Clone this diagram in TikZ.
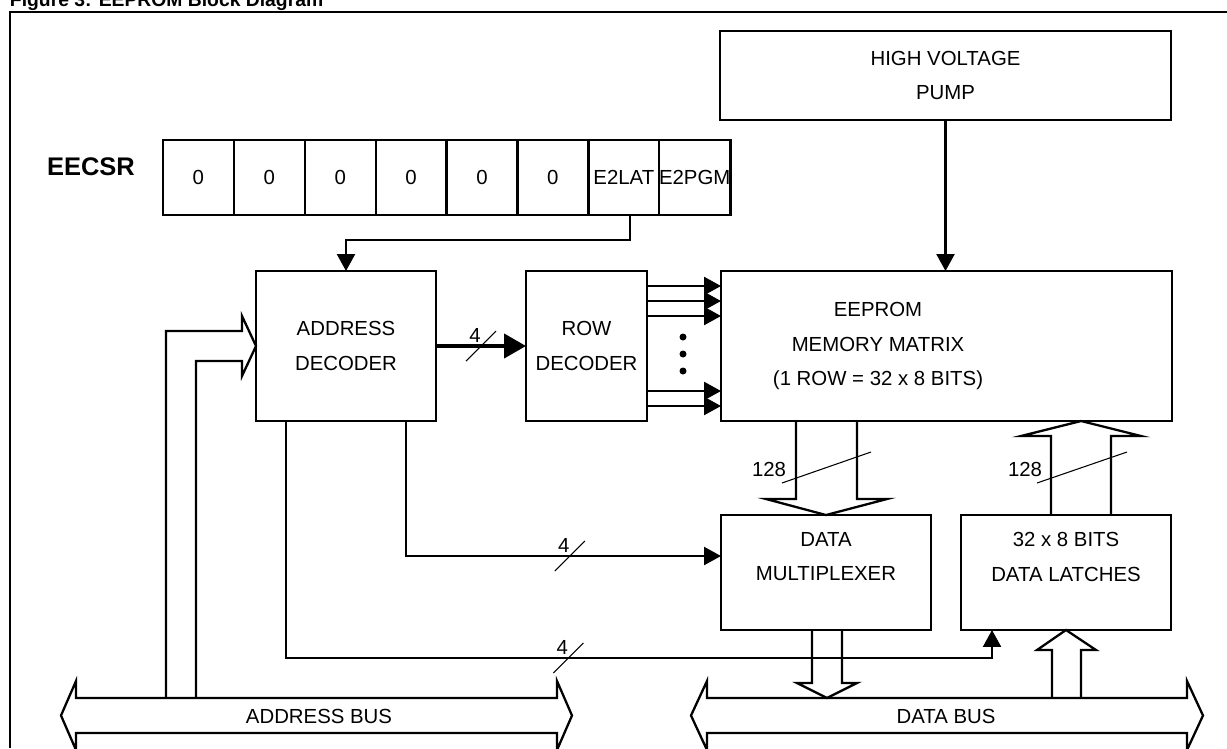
\documentclass[tikz,border=0pt]{standalone}
\usepackage{fontspec}
\setmainfont{Liberation Sans}
\usetikzlibrary{arrows.meta}

\begin{document}
\begin{tikzpicture}[x=0.02cm,y=-0.02cm,inner sep=0pt,outer sep=0pt,line width=1.3pt,
font=\fontsize{11.6pt}{19.4pt}\selectfont,
>={Triangle[length=0.34cm,width=0.36cm]},
blk/.style={draw,rectangle,align=center},
cell/.style={draw,rectangle,minimum width=1.418cm,minimum height=1.5cm},
slash/.style={line width=0.6pt}]
\useasboundingbox (0,0) rectangle (1227,748);
\draw (10,6) node[anchor=base west,font=\bfseries\fontsize{11pt}{13pt}\selectfont] (title) {Figure 3: EEPROM Block Diagram};
\draw (10,748) -- (10,12) -- (1227,12);

\draw (945.5,75.5) node[blk,minimum width=9.02cm,minimum height=1.78cm] (pump) {HIGH VOLTAGE\\PUMP};
\draw (91,167) node[font=\bfseries\fontsize{14.5pt}{17pt}\selectfont] (eecsr) {EECSR};
\draw (198.4,177.5) node[cell] (c1) {0};
\draw (269.3,177.5) node[cell] (c2) {0};
\draw (340.2,177.5) node[cell] (c3) {0};
\draw (411.1,177.5) node[cell] (c4) {0};
\draw (482.0,177.5) node[cell] (c5) {0};
\draw (552.9,177.5) node[cell] (c6) {0};
\draw (623.8,177.5) node[cell] (c7) {E2LAT};
\draw (694.7,177.5) node[cell] (c8) {E2PGM};

\draw (346,346) node[blk,minimum width=3.6cm,minimum height=3cm] (addr) {ADDRESS\\DECODER};
\draw (586.5,346) node[blk,minimum width=2.42cm,minimum height=3cm] (row) {ROW\\DECODER};
\draw (946.5,346) node[blk,minimum width=9.02cm,minimum height=3cm] (matrix) {};
\draw (878,346) node[align=center] (mtxt) {EEPROM\\MEMORY MATRIX\\(1 ROW = 32 x 8 BITS)};
\draw (826,572.5) node[blk,minimum width=4.2cm,minimum height=2.3cm] (mux) {};
\draw (826,557) node[align=center] (muxtxt) {DATA\\MULTIPLEXER};
\draw (1066,572.5) node[blk,minimum width=4.2cm,minimum height=2.3cm] (latch) {};
\draw (1066,557) node[align=center] (lattxt) {32 x 8 BITS\\DATA LATCHES};

\draw[->] (pump.south) -- (pump.south |- matrix.north);
\draw[->] ([xshift=0.12cm]c7.south) -- ++(0,25) -| (addr.north);
\draw[-{Triangle[length=0.44cm,width=0.48cm]},line width=2.4pt] (addr) -- coordinate (s1) (row);
\foreach \yy in {286,301,316,391,406}
  \draw[->] (row.east |- 0,\yy) -- (matrix.west |- 0,\yy);
\foreach \yy in {337,354,371}
  \fill (683,\yy) circle (0.07cm);
\draw[->] ([xshift=-0.6cm]addr.south east) |- coordinate[pos=0.76] (s2) ([yshift=0.33cm]mux.west);
\draw[->] ([xshift=0.6cm]addr.south west) -- ++(0,237) -| coordinate[pos=0.2] (s3) ([xshift=0.62cm]latch.south west);
\foreach \s/\n in {s1/n1,s2/n2,s3/n3} {
  \draw[slash] (\s) ++(-15,15) -- ++(30,-30);
  \draw ([shift={(-6,-11)}]\s) node (\n) {4};
}

% wide bus arrows
\draw (796,421) -- (796,499) -- (766,499) -- (mux.north) -- (887,499) -- (857,499) -- (857,421);
\draw (1051,515) -- (1051,436) -- (1021,436) -- (1081,421) -- (1141,436) -- (1111,436) -- (1111,515);
\draw[slash] (782,483) -- (871,452);
\draw (769,469) node (w1) {128};
\draw[slash] (1037,483) -- (1127,452);
\draw (1025,469) node (w2) {128};
\draw (812,630) -- (812,683) -- (797,683) -- (827,698) -- (857,683) -- (842,683) -- (842,630);
\draw (1052,698) -- (1052,650) -- (1037,650) -- (latch.south) -- (1096,650) -- (1081,650) -- (1081,698);
\draw (166,698) -- (166,331) -- (242,331) -- (242,316) -- (addr.west) -- (242,376) -- (242,361) -- (196,361) -- (196,698);

% buses
\draw (76,698) -- (557,698) -- (557,681) -- (572,715.5) -- (557,750) -- (557,733) -- (76,733) -- (76,750) -- (61,715.5) -- (76,681) -- cycle;
\draw (319,716) node (abus) {ADDRESS BUS};
\draw (707,698) -- (1187,698) -- (1187,681) -- (1203,715.5) -- (1187,750) -- (1187,733) -- (707,733) -- (707,750) -- (691,715.5) -- (707,681) -- cycle;
\draw (946,716) node (dbus) {DATA BUS};
\end{tikzpicture}
\end{document}
